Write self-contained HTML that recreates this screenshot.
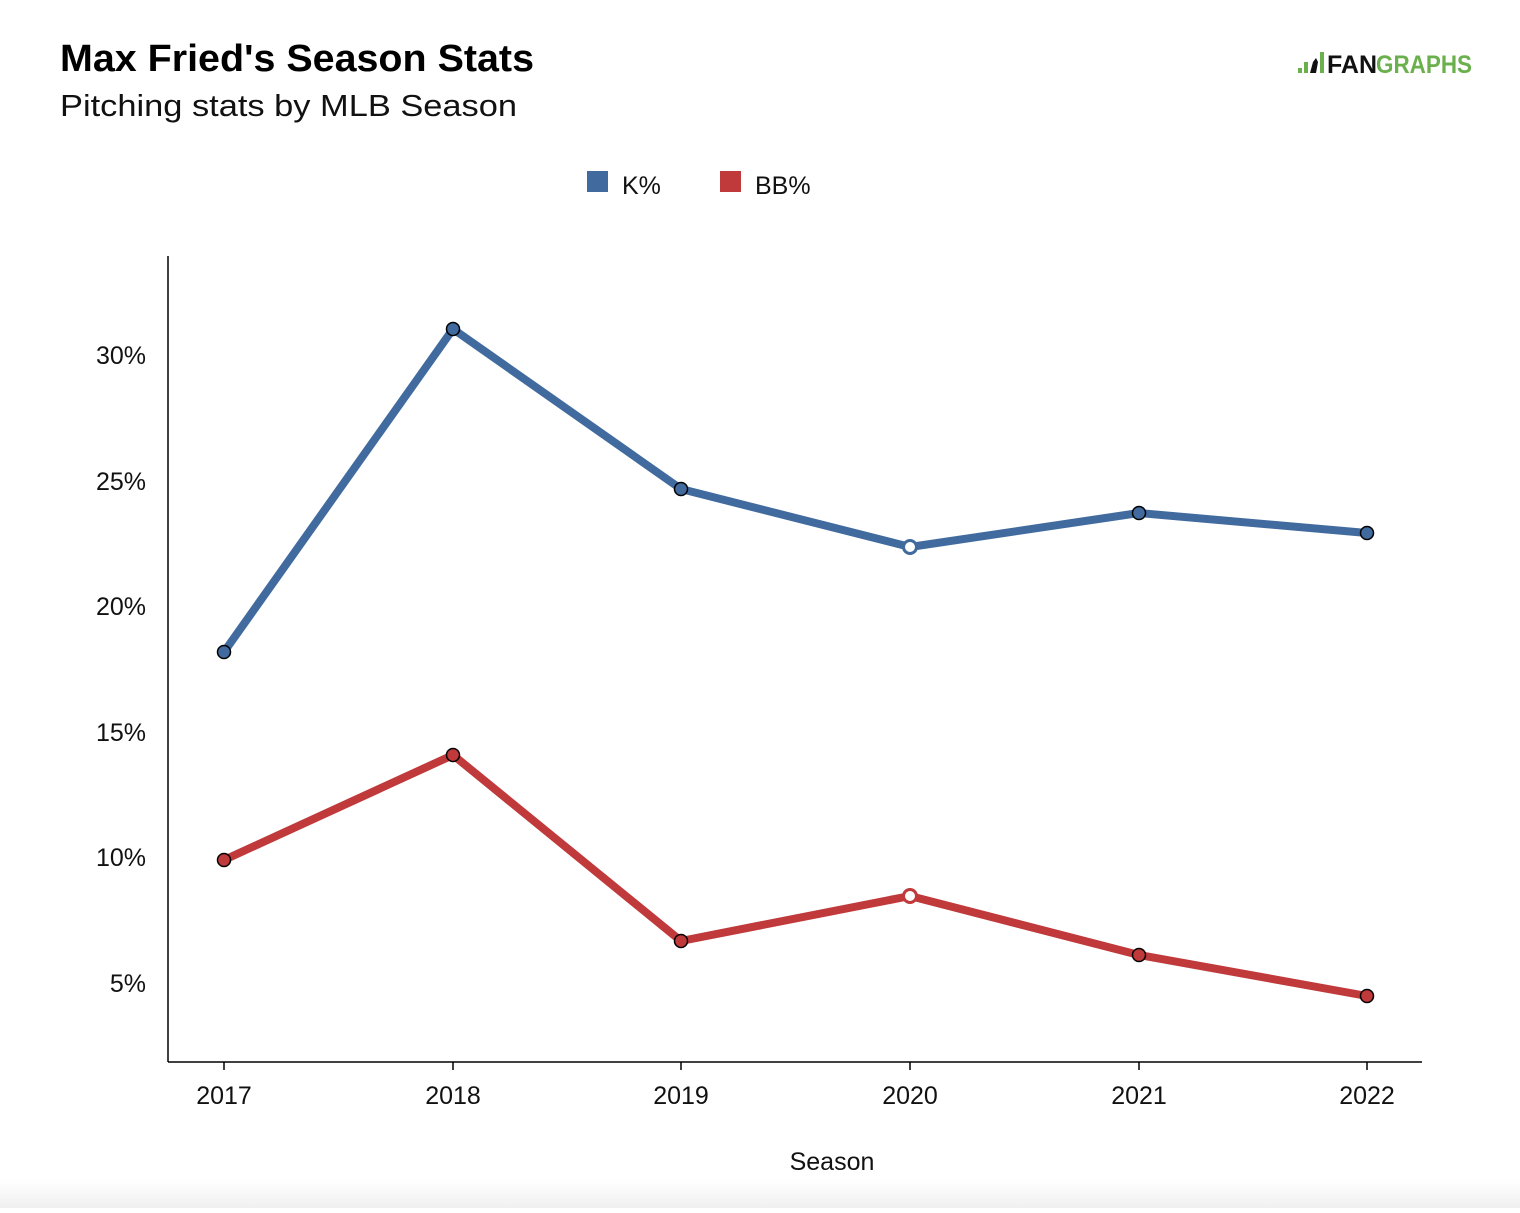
<!DOCTYPE html>
<html><head><style>
body{margin:0;background:#fff;}
svg text{font-family:"Liberation Sans",sans-serif;}
</style></head><body>
<svg width="1520" height="1208" viewBox="0 0 1520 1208" xmlns="http://www.w3.org/2000/svg">
<defs><linearGradient id="g" x1="0" y1="0" x2="0" y2="1"><stop offset="0" stop-color="#fff"/><stop offset="1" stop-color="#f0f0f0"/></linearGradient></defs>
<rect x="0" y="1180" width="1520" height="28" fill="url(#g)"/>
<text x="60" y="71" font-size="38" font-weight="bold" fill="#000" textLength="474" lengthAdjust="spacingAndGlyphs">Max Fried's Season Stats</text>
<text x="60" y="116" font-size="31" fill="#111" textLength="457" lengthAdjust="spacingAndGlyphs">Pitching stats by MLB Season</text>
<g>
<rect x="1298" y="68" width="4" height="5" fill="#6ab04c"/>
<rect x="1304" y="62" width="4" height="11" fill="#6ab04c"/>
<path d="M1310 73 L1313 62 L1316 58 L1318 62 L1316 73 Z" fill="#111"/>
<rect x="1320" y="52" width="4" height="21" fill="#6ab04c"/>
<text x="1327" y="73" font-size="25" font-weight="bold" fill="#111" textLength="50" lengthAdjust="spacingAndGlyphs">FAN</text>
<text x="1376" y="73" font-size="25" font-weight="bold" fill="#6ab04c" textLength="96" lengthAdjust="spacingAndGlyphs">GRAPHS</text>
</g>
<rect x="587" y="171" width="21" height="21" fill="#416a9e"/>
<text x="622" y="194" font-size="25" fill="#111">K%</text>
<rect x="720" y="171" width="21" height="21" fill="#c0393b"/>
<text x="755" y="194" font-size="25" fill="#111">BB%</text>
<g stroke="#000" stroke-width="1.5">
<line x1="168" y1="256" x2="168" y2="1062"/>
<line x1="168" y1="1062" x2="1422" y2="1062"/>
<line x1="224" y1="1062" x2="224" y2="1070"/><line x1="453" y1="1062" x2="453" y2="1070"/><line x1="681" y1="1062" x2="681" y2="1070"/><line x1="910" y1="1062" x2="910" y2="1070"/><line x1="1139" y1="1062" x2="1139" y2="1070"/><line x1="1367" y1="1062" x2="1367" y2="1070"/>
</g>
<g font-size="25" fill="#111" text-anchor="end">
<text x="146" y="364">30%</text><text x="146" y="490">25%</text><text x="146" y="615">20%</text><text x="146" y="741">15%</text><text x="146" y="866">10%</text><text x="146" y="992">5%</text>
</g>
<g font-size="25" fill="#111" text-anchor="middle">
<text x="224" y="1104">2017</text><text x="453" y="1104">2018</text><text x="681" y="1104">2019</text><text x="910" y="1104">2020</text><text x="1139" y="1104">2021</text><text x="1367" y="1104">2022</text>
<text x="832" y="1170">Season</text>
</g>
<polyline points="224,652 453,329 681,489 910,547 1139,513 1367,533" fill="none" stroke="#416a9e" stroke-width="8" stroke-linejoin="round"/>
<polyline points="224,860 453,755 681,941 910,896 1139,955 1367,996" fill="none" stroke="#c0393b" stroke-width="8" stroke-linejoin="round"/>
<g stroke="#000" stroke-width="1.5" fill="#416a9e">
<circle cx="224" cy="652" r="6.5"/><circle cx="453" cy="329" r="6.5"/><circle cx="681" cy="489" r="6.5"/><circle cx="1139" cy="513" r="6.5"/><circle cx="1367" cy="533" r="6.5"/>
</g>
<circle cx="910" cy="547" r="6.5" fill="#fff" stroke="#416a9e" stroke-width="3"/>
<g stroke="#000" stroke-width="1.5" fill="#c0393b">
<circle cx="224" cy="860" r="6.5"/><circle cx="453" cy="755" r="6.5"/><circle cx="681" cy="941" r="6.5"/><circle cx="1139" cy="955" r="6.5"/><circle cx="1367" cy="996" r="6.5"/>
</g>
<circle cx="910" cy="896" r="6.5" fill="#fff" stroke="#c0393b" stroke-width="3"/>
</svg>
</body></html>
